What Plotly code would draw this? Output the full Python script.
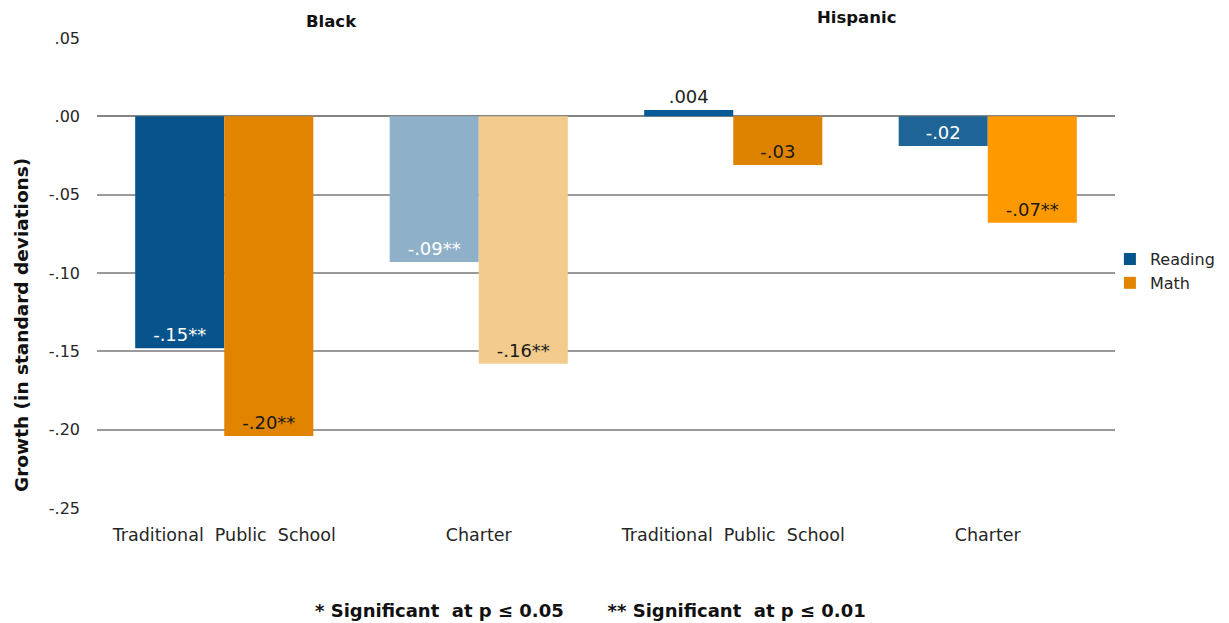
import plotly.graph_objects as go

# ---- data ----
cat_ids = ["B-TPS", "B-Charter", "H-TPS", "H-Charter"]
cat_labels = ["Traditional\u00a0\u00a0Public\u00a0\u00a0School", "Charter",
              "Traditional\u00a0\u00a0Public\u00a0\u00a0School", "Charter"]

reading = [-0.148, -0.093, 0.004, -0.019]
math = [-0.204, -0.158, -0.031, -0.068]

reading_lbl = ["-.15**", "-.09**", ".004", "-.02"]
math_lbl = ["-.20**", "-.16**", "-.03", "-.07**"]

y_tickvals = [0.05, 0.0, -0.05, -0.10, -0.15, -0.20, -0.25]
y_ticktext = [".05", ".00", "-.05", "-.10", "-.15", "-.20", "-.25"]

# ---- styling ----
FONT = "DejaVu Sans"
reading_colors = ["#07548d", "#8fb0c9", "#075a98", "#1e6496"]
math_colors = ["#e18400", "#f3cb8c", "#de8300", "#ff9900"]
reading_text_colors = ["white", "white", "#222222", "white"]
reading_text_pos = ["inside", "inside", "outside", "inside"]

fig = go.Figure()

fig.add_trace(go.Bar(
    x=cat_ids, y=reading, name="Reading",
    marker=dict(color=reading_colors, line=dict(width=0)),
    text=reading_lbl, textposition=reading_text_pos, insidetextanchor="end",
    textangle=0, textfont=dict(family=FONT, size=18, color=reading_text_colors),
    cliponaxis=False))
fig.add_trace(go.Bar(
    x=cat_ids, y=math, name="Math",
    marker=dict(color=math_colors, line=dict(width=0)),
    text=math_lbl, textposition="inside", insidetextanchor="end",
    textangle=0, textfont=dict(family=FONT, size=18, color="#1a1a1a"),
    cliponaxis=False))

# the page body adds an 8px offset, so the figure is sized/placed to compensate
fig.update_layout(
    width=1221, height=615,
    margin=dict(l=89, r=114, t=30, b=115, autoexpand=False),
    paper_bgcolor="white", plot_bgcolor="white",
    barmode="group", bargap=0.30, bargroupgap=0,
    uniformtext=dict(minsize=18, mode="show"),
    font=dict(family=FONT, size=16, color="#262626"),
    xaxis=dict(type="category", categoryarray=cat_ids, categoryorder="array",
               tickvals=cat_ids, ticktext=cat_labels, range=[-0.5, 3.5],
               showgrid=False, showline=False, zeroline=False, ticks="",
               automargin=False, ticklabelstandoff=14,
               tickfont=dict(family=FONT, size=17.5, color="#262626")),
    yaxis=dict(range=[-0.25, 0.05], tickvals=y_tickvals, ticktext=y_ticktext,
               showgrid=True, gridcolor="#9a9a9a", gridwidth=1.5,
               zeroline=True, zerolinecolor="#858585", zerolinewidth=2,
               showline=False, ticks="", ticklabelstandoff=16, automargin=False,
               tickfont=dict(family=FONT, size=16, color="#262626")),
    legend=dict(x=0.995, y=0.504, xanchor="left", yanchor="middle",
                font=dict(family=FONT, size=16, color="#262626"),
                itemwidth=30, tracegroupgap=0, bgcolor="rgba(0,0,0,0)"),
    showlegend=True,
)

annos = [
    dict(text="<b>Black</b>", x=0.2305, y=(508 - 22) / 470, font=dict(family=FONT, size=16.5, color="#111")),
    dict(text="<b>Hispanic</b>", x=0.746, y=(508 - 18) / 470, font=dict(family=FONT, size=16.5, color="#111")),
    dict(text="<b>Growth (in standard deviations)</b>", x=(22.5 - 97.5) / 1017.5, y=(508 - 325) / 470,
         textangle=-90, font=dict(family=FONT, size=18.5, color="#111")),
    dict(text="<b>* Significant\u00a0\u00a0at p \u2264 0.05\u00a0\u00a0\u00a0\u00a0\u00a0\u00a0\u00a0** Significant\u00a0\u00a0at p \u2264 0.01</b>",
         x=(591 - 97.5) / 1017.5, y=(508 - 610) / 470, font=dict(family=FONT, size=18, color="#111")),
]
for a in annos:
    a.update(xref="paper", yref="paper", showarrow=False, xanchor="center", yanchor="middle")
    fig.add_annotation(**a)

fig.write_html("out.html")
